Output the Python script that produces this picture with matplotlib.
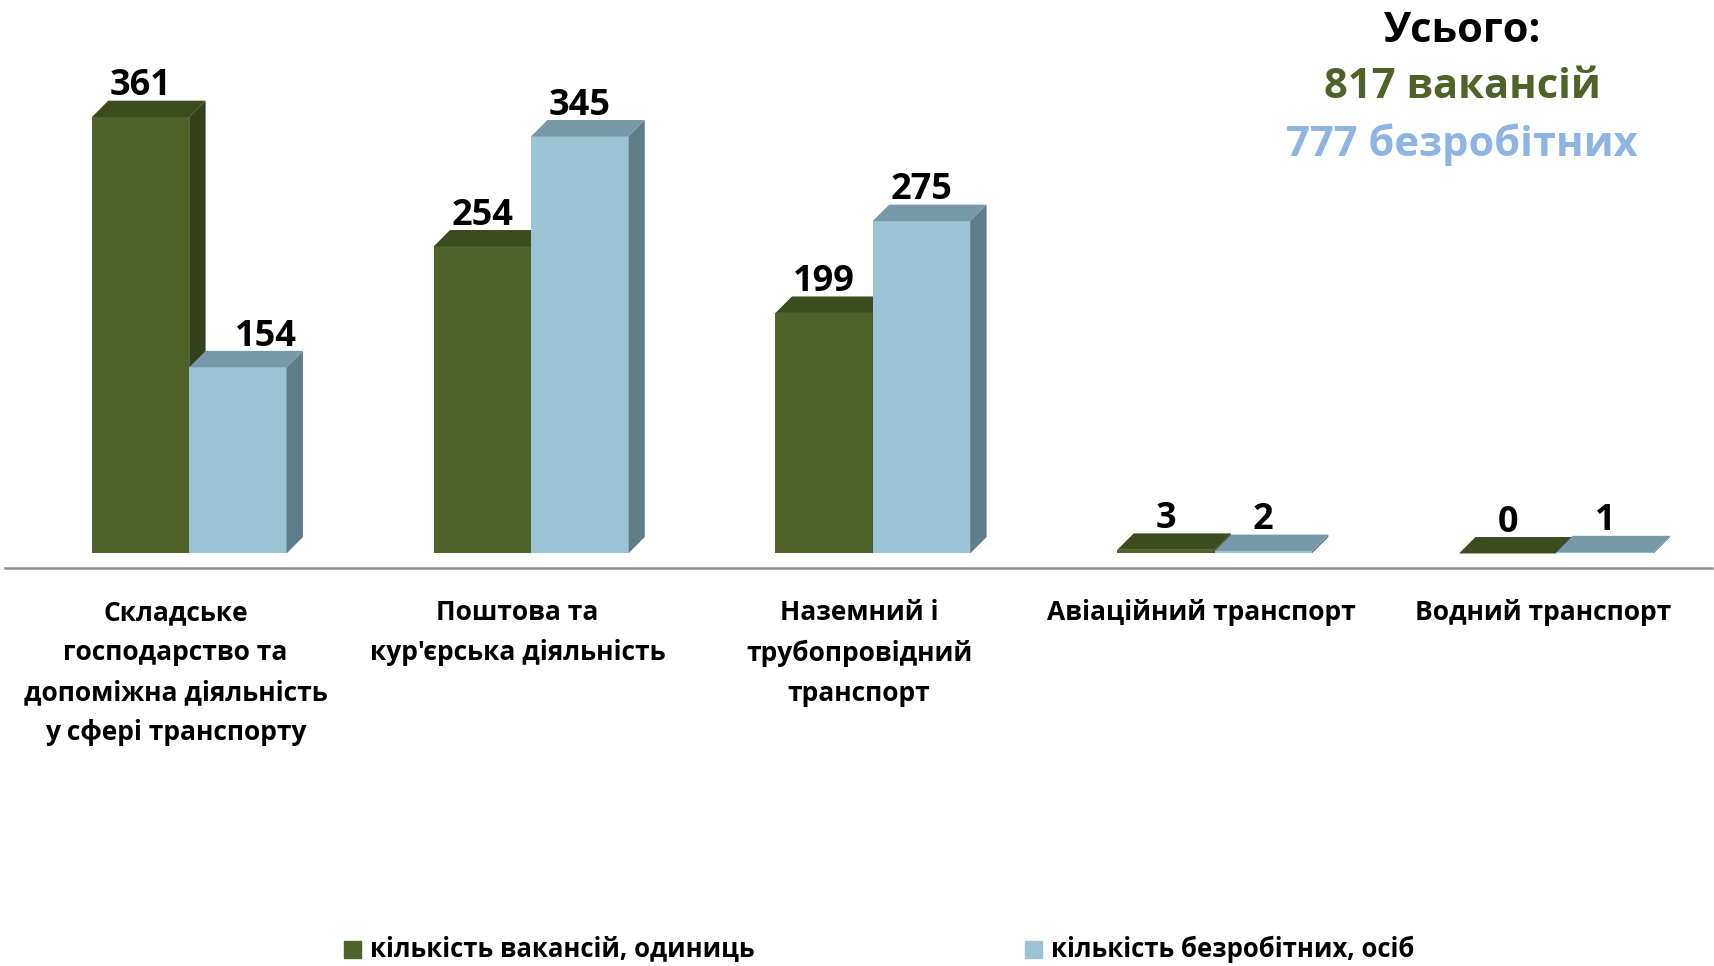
import matplotlib.pyplot as plt
from matplotlib.patches import Polygon, Rectangle

plt.rcParams['font.family'] = ['Open Sans', 'DejaVu Sans']
plt.rcParams['font.weight'] = 'bold'

# дані
categories = ['Складське\nгосподарство та\nдопоміжна діяльність\nу сфері транспорту',
              'Поштова та\nкур\'єрська діяльність',
              'Наземний і\nтрубопровідний\nтранспорт',
              'Авіаційний транспорт',
              'Водний транспорт']
vacancies = [361, 254, 199, 3, 0]
unemployed = [154, 345, 275, 2, 1]
series_names = ['кількість вакансій, одиниць', 'кількість безробітних, осіб']
total_lines = ['Усього:', '817 вакансій', '777 безробітних']

# кольори: фасад, верх, бік
green = ('#4F6228', '#3D4C1F', '#33401A')
blue = ('#9BC3D6', '#7798A8', '#5F7C89')
total_colors = ['black', '#4F6228', '#8DB4E2']

W, H = 1715, 966
fig = plt.figure(figsize=(W / 100, H / 100), dpi=100)
ax = fig.add_axes([0, 0, 1, 1])
ax.set_xlim(-0.5535, 4.464)
ax.set_ylim(-341.3, 457.9)
ax.axis('off')

bw = 0.2848   # ширина стовпця
ddx = 0.048   # глибина по x
ddy = 13.6    # глибина по y


def draw_bar3d(xl, v, cols):
    front, top, side = cols
    ax.bar(xl, v, width=bw, align='edge', color=front, zorder=2)
    ax.add_patch(Polygon([(xl + bw, 0), (xl + bw, v), (xl + bw + ddx, v + ddy),
                          (xl + bw + ddx, ddy)], closed=True, color=side, zorder=2, lw=0))
    ax.add_patch(Polygon([(xl, v), (xl + bw, v), (xl + bw + ddx, v + ddy),
                          (xl + ddx, v + ddy)], closed=True, color=top, zorder=2, lw=0))


label_shift = {(0, 1): 0.082}

for i, (v1, v2) in enumerate(zip(vacancies, unemployed)):
    for j, (v, cols) in enumerate([(v1, green), (v2, blue)]):
        xl = i - bw + j * bw
        draw_bar3d(xl, v, cols)
        cx = xl + bw / 2 + label_shift.get((i, j), 0)
        ax.text(cx, v + ddy - 3, str(v), ha='center', va='bottom',
                fontsize=26, fontweight='bold', color='black')
    ax.text(i - 0.04, -38, categories[i], ha='center', va='top',
            fontsize=19, fontweight='bold', linespacing=1.62)

# лінія основи
ax.plot([-0.5375, 4.455], [-11.7, -11.7], color='#8C8C8C', lw=1.8, zorder=1)

# легенда
leg_x = [353, 1034]
for k, name in enumerate(series_names):
    col = green[0] if k == 0 else blue[0]
    fig.patches.append(Rectangle(((leg_x[k] - 9) / W, 1 - 958 / H), 17 / W, 17 / H,
                                 transform=fig.transFigure, color=col))
    fig.text((leg_x[k] + 17) / W, 1 - 949 / H, name, ha='left', va='center',
             fontsize=18.5, fontweight='bold')

# підсумки
for k, (txt, col) in enumerate(zip(total_lines, total_colors)):
    fig.text(1462 / W, 1 - (31 + 57 * k) / H, txt, ha='center', va='center',
             fontsize=30, fontweight='bold', color=col)

fig.savefig('out.png', dpi=100, facecolor='white')
